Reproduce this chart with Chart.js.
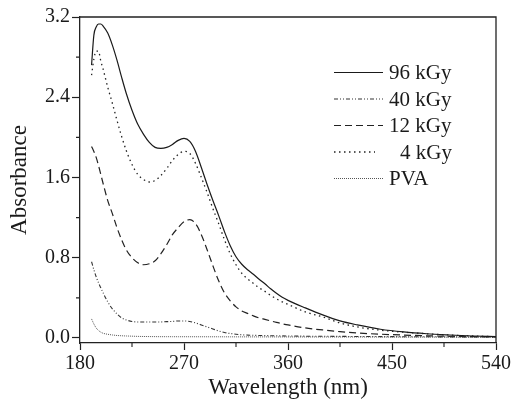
<!DOCTYPE html>
<html><head><meta charset="utf-8">
<script src="https://cdn.jsdelivr.net/npm/chart.js@4/dist/chart.umd.min.js"></script>
<style>html,body{margin:0;padding:0;background:#fff}#wrap{width:513px;height:402px}</style>
</head><body><div id="wrap"><canvas id="c" width="513" height="402"></canvas></div>
<script>
const wavelengths = [190,192,194,196,198,200,204,208,212,216,220,225,230,235,240,245,250,255,260,265,270,275,280,285,290,295,300,305,310,315,320,325,330,335,340,345,350,355,360,375,390,405,420,440,460,480,500,520,540];
const abs96kGy = [2.72,3.02,3.10,3.13,3.13,3.11,3.04,2.92,2.77,2.60,2.44,2.27,2.13,2.03,1.95,1.90,1.89,1.90,1.93,1.97,1.99,1.96,1.86,1.70,1.53,1.37,1.22,1.06,0.92,0.81,0.735,0.68,0.635,0.585,0.54,0.49,0.445,0.405,0.375,0.30,0.23,0.17,0.13,0.087,0.06,0.042,0.03,0.02,0.013];
const abs40kGy = [0.76,0.68,0.61,0.55,0.50,0.45,0.36,0.29,0.24,0.20,0.18,0.165,0.16,0.16,0.16,0.16,0.16,0.163,0.165,0.17,0.17,0.165,0.15,0.13,0.11,0.09,0.07,0.055,0.045,0.037,0.032,0.029,0.027,0.025,0.024,0.023,0.022,0.021,0.02,0.018,0.017,0.016,0.015,0.014,0.013,0.012,0.011,0.01,0.01];
const abs12kGy = [1.91,1.86,1.80,1.72,1.63,1.54,1.37,1.24,1.10,0.98,0.88,0.80,0.75,0.73,0.74,0.77,0.84,0.93,1.03,1.10,1.16,1.18,1.14,1.03,0.88,0.72,0.57,0.45,0.37,0.31,0.27,0.245,0.22,0.20,0.185,0.17,0.155,0.142,0.13,0.10,0.08,0.063,0.05,0.038,0.029,0.022,0.017,0.013,0.011];
const abs4kGy = [2.62,2.78,2.86,2.86,2.76,2.68,2.50,2.34,2.17,2.01,1.87,1.73,1.63,1.58,1.555,1.57,1.62,1.69,1.77,1.83,1.86,1.84,1.74,1.60,1.45,1.29,1.14,0.98,0.84,0.73,0.645,0.59,0.545,0.50,0.465,0.425,0.39,0.36,0.335,0.26,0.21,0.15,0.11,0.078,0.058,0.042,0.03,0.02,0.013];
const absPVA = [0.19,0.14,0.10,0.075,0.058,0.047,0.037,0.03,0.025,0.022,0.02,0.018,0.016,0.015,0.014,0.0135,0.013,0.013,0.0128,0.0126,0.0125,0.0124,0.0123,0.0122,0.0121,0.012,0.012,0.0118,0.0116,0.0114,0.0112,0.0111,0.011,0.0109,0.0108,0.0107,0.0106,0.0105,0.0104,0.0102,0.01,0.0098,0.0096,0.0093,0.009,0.0088,0.0085,0.0083,0.008];
const seriesLabels = ['96 kGy','40 kGy','12 kGy','4 kGy','PVA'];
const xTicks = [180,270,360,450,540];
const yTicks = [0,0.8,1.6,2.4,3.2];
const xMinorTicks = [225,315,405,495];
const yMinorTicks = [0.4,1.2,2.0,2.8];

const seriesValues = [abs96kGy, abs40kGy, abs12kGy, abs4kGy, absPVA];
const styles = [
  {color:'#1a1a1a', width:1.2, dash:[]},
  {color:'#333', width:1.1, dash:[4,2,1,2,1,2]},
  {color:'#222', width:1.2, dash:[7,4]},
  {color:'#222', width:1.3, dash:[1.5,3.5]},
  {color:'#555', width:1.0, dash:[1,1]}
];
const FONT = "'Liberation Serif', 'Times New Roman', serif";

const datasets = seriesValues.map((vals, i) => ({
  label: seriesLabels[i],
  data: wavelengths.map((w, j) => ({x: w, y: vals[j]})),
  borderColor: styles[i].color,
  borderWidth: styles[i].width,
  borderDash: styles[i].dash,
  pointRadius: 0,
  fill: false,
  cubicInterpolationMode: 'monotone'
}));

const framePlugin = {
  id: 'frame',
  afterDraw(chart) {
    const {ctx, chartArea: a} = chart;
    const xs = chart.scales.x, ys = chart.scales.y;
    ctx.save();
    ctx.strokeStyle = '#222';
    ctx.lineWidth = 1.3;
    ctx.setLineDash([]);
    ctx.beginPath();
    ctx.moveTo(a.left, a.top); ctx.lineTo(a.right, a.top); ctx.lineTo(a.right, a.bottom);
    ctx.stroke();
    // minor ticks
    ctx.lineWidth = 1.1;
    ctx.beginPath();
    xMinorTicks.forEach(v => { const p = xs.getPixelForValue(v); ctx.moveTo(p, a.bottom); ctx.lineTo(p, a.bottom + 4); });
    yMinorTicks.forEach(v => { const p = ys.getPixelForValue(v); ctx.moveTo(a.left, p); ctx.lineTo(a.left - 4, p); });
    ctx.stroke();
    // legend
    const rows = [72.5, 99, 125.5, 152, 178.5];
    ctx.font = '21px ' + FONT;
    ctx.textAlign = 'left';
    ctx.textBaseline = 'middle';
    ctx.fillStyle = '#1a1a1a';
    rows.forEach((y, i) => {
      const st = styles[i];
      ctx.strokeStyle = st.color;
      ctx.lineWidth = st.width;
      ctx.setLineDash(st.dash);
      ctx.beginPath();
      ctx.moveTo(334, y);
      ctx.lineTo(i === 3 ? 375 : 383, y);
      ctx.stroke();
      ctx.fillText(seriesLabels[i], i === 3 ? 400 : 389, y + 1);
    });
    ctx.restore();
  }
};

new Chart(document.getElementById('c'), {
  type: 'line',
  data: {datasets},
  options: {
    responsive: false,
    animation: false,
    devicePixelRatio: 1,
    layout: {padding: {top: 17, right: 17, left: 0, bottom: 0}},
    plugins: {legend: {display: false}, tooltip: {enabled: false}},
    scales: {
      x: {
        type: 'linear', min: 180, max: 540,
        afterFit(s) { s.height = 59; },
        afterBuildTicks(s) { s.ticks = xTicks.map(v => ({value: v})); },
        grid: {display: true, drawOnChartArea: false, drawTicks: true, tickLength: 7, tickColor: '#222', tickWidth: 1.2},
        border: {display: true, color: '#222', width: 1.3},
        ticks: {color: '#1a1a1a', font: {family: FONT, size: 20}, padding: 2, maxRotation: 0, callback: v => String(v)},
        title: {display: true, text: 'Wavelength (nm)', color: '#1a1a1a', font: {family: FONT, size: 23, lineHeight: 1.2}, padding: {top: 0, bottom: 0}}
      },
      y: {
        type: 'linear', min: -0.05, max: 3.2,
        afterFit(s) { s.width = 80; },
        afterBuildTicks(s) { s.ticks = yTicks.map(v => ({value: v})); },
        grid: {display: true, drawOnChartArea: false, drawTicks: true, tickLength: 8, tickColor: '#222', tickWidth: 1.2},
        border: {display: true, color: '#222', width: 1.3},
        ticks: {color: '#1a1a1a', font: {family: FONT, size: 20}, padding: 2, callback: v => Number(v).toFixed(1)},
        title: {display: true, text: 'Absorbance', color: '#1a1a1a', font: {family: FONT, size: 23, lineHeight: 1.2}, padding: {top: 6, bottom: 0}}
      }
    }
  },
  plugins: [framePlugin]
});
</script></body></html>
